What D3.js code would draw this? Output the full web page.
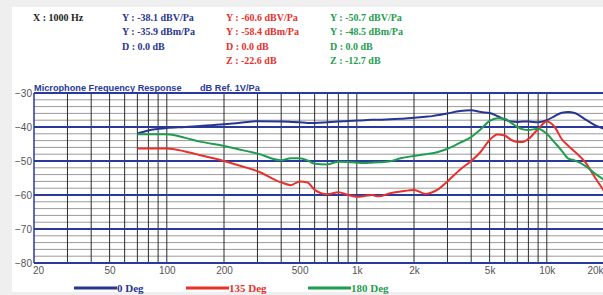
<!DOCTYPE html>
<html>
<head>
<meta charset="utf-8">
<script src="https://cdn.jsdelivr.net/npm/d3@7"></script>
<style>
  body { margin: 0; background: #efefef; }
  svg { display: block; }
</style>
</head>
<body>
<svg id="chart" width="603" height="295"></svg>
<script>
"use strict";

const freqs = [70, 80, 100, 125, 150, 200, 250, 300, 400, 450, 500, 550, 600, 700, 800, 900,
  1000, 1100, 1200, 1300, 1500, 1700, 2000, 2300, 2500, 2700, 3000, 3500, 4000, 4500, 5000,
  5500, 6000, 6500, 7000, 7500, 8000, 9000, 10000, 11000, 12000, 13000, 14000, 16000, 18000, 20000];

const deg0 = [-41.9, -41.0, -40.3, -40.0, -39.7, -39.2, -38.7, -38.3, -38.4, -38.5, -38.6, -38.8, -38.8, -38.6, -38.4, -38.2,
  -38.1, -38.0, -37.9, -37.9, -37.7, -37.6, -37.3, -37.0, -36.8, -36.5, -36.0, -35.3, -35.1, -35.6, -35.9,
  -36.8, -37.8, -38.4, -38.5, -38.4, -38.4, -38.6, -38.0, -36.8, -35.8, -35.6, -35.9, -37.8, -39.5, -40.5];

const deg135 = [-46.3, -46.3, -46.3, -47.2, -48.3, -50.0, -51.6, -53.0, -56.3, -57.1, -56.0, -56.3, -58.5, -59.8, -59.2, -60.0,
  -60.5, -60.3, -60.0, -60.4, -59.5, -59.0, -58.5, -59.7, -59.2, -58.2, -56.0, -52.5, -50.0, -47.2, -43.8,
  -42.2, -42.5, -43.8, -44.4, -44.4, -43.5, -40.6, -38.4, -40.0, -43.6, -45.6, -47.2, -50.5, -55.0, -58.8];

const deg180 = [-42.1, -42.1, -42.1, -43.2, -44.3, -45.6, -46.8, -47.8, -49.8, -49.2, -49.2, -49.8, -50.8, -51.0, -50.2, -50.3,
  -50.5, -50.6, -50.5, -50.4, -50.1, -49.2, -48.5, -48.0, -47.7, -47.3, -46.4, -44.6, -43.0, -40.6, -38.2,
  -37.4, -37.6, -38.8, -40.0, -40.7, -40.9, -40.5, -42.0, -44.6, -47.0, -49.3, -49.8, -51.5, -53.8, -55.5];

const seriesNames = ["0 Deg", "135 Deg", "180 Deg"];
const seriesColors = ["#283593", "#e8302c", "#1f9d4f"];

const xTicks = [20, 50, 100, 200, 500, 1000, 2000, 5000, 10000, 20000];
const xTickLabels = ["20", "50", "100", "200", "500", "1k", "2k", "5k", "10k", "20k"];
const yTicks = [-30, -40, -50, -60, -70, -80];

// cursor readout at 1000 Hz
const readX = "X : 1000 Hz";
const readouts = [
  ["Y : -38.1 dBV/Pa", "Y : -35.9 dBm/Pa", "D : 0.0 dB"],
  ["Y : -60.6 dBV/Pa", "Y : -58.4 dBm/Pa", "D : 0.0 dB", "Z : -22.6 dB"],
  ["Y : -50.7 dBV/Pa", "Y : -48.5 dBm/Pa", "D : 0.0 dB", "Z : -12.7 dB"]
];

const svg = d3.select("#chart");

// white panel
svg.append("rect").attr("x", 12).attr("y", 7).attr("width", 591).attr("height", 285).attr("fill", "#fff");

const pLeft = 34, pRight = 604, pTop = 93, pBottom = 263;

const x = d3.scaleLog().domain([20, 20000]).range([pLeft, pRight]);
const y = d3.scaleLinear().domain([-80, -30]).range([pBottom, pTop]);

const plot = svg.append("g");

// minor horizontal grid every 2 dB
const minorY = d3.range(-80, -29, 2).filter(d => d % 10 !== 0);
plot.selectAll(".hmin").data(minorY).enter().append("line")
  .attr("x1", pLeft).attr("x2", pRight)
  .attr("y1", d => y(d)).attr("y2", d => y(d))
  .attr("stroke", "#9a9a9a").attr("stroke-width", 1);

// vertical grid at 1..9 of each decade
const vLines = [];
[10, 100, 1000, 10000].forEach(dec => {
  for (let k = 1; k <= 9; k++) {
    const f = dec * k;
    if (f > 20 && f < 20000) vLines.push(f);
  }
});
plot.selectAll(".vgrid").data(vLines).enter().append("line")
  .attr("x1", d => x(d)).attr("x2", d => x(d))
  .attr("y1", pTop).attr("y2", pBottom)
  .attr("stroke", "#2b2b2b").attr("stroke-width", 1);

// major horizontal grid
plot.selectAll(".hmaj").data(yTicks).enter().append("line")
  .attr("x1", pLeft).attr("x2", pRight)
  .attr("y1", d => y(d)).attr("y2", d => y(d))
  .attr("stroke", "#2a3a9c").attr("stroke-width", 2);

// left axis line
plot.append("line").attr("x1", pLeft).attr("x2", pLeft).attr("y1", pTop).attr("y2", pBottom)
  .attr("stroke", "#2a3a9c").attr("stroke-width", 1.5);

// y labels
const yAxis = d3.axisLeft(y).tickValues(yTicks).tickSize(0).tickPadding(2).tickFormat(d3.format("d"));
const yg = svg.append("g").attr("transform", `translate(${pLeft},0)`).call(yAxis);
yg.select(".domain").remove();
yg.selectAll("text").attr("fill", "#555").style("font", "10px 'Liberation Sans', Arial, sans-serif");

// x labels
const xAxis = d3.axisBottom(x).tickValues(xTicks).tickSize(0).tickPadding(4)
  .tickFormat((d, i) => xTickLabels[i]);
const xg = svg.append("g").attr("transform", `translate(0,${pBottom})`).call(xAxis);
xg.select(".domain").remove();
xg.selectAll("text").attr("fill", "#555").style("font", "10px 'Liberation Sans', Arial, sans-serif");
xg.selectAll("text").filter(d => d === 20).attr("dx", 4);
xg.selectAll("text").filter(d => d === 20000).attr("dx", -9);

// curves
const allSeries = [deg0, deg135, deg180];
const line = d3.line()
  .x(d => x(d[0]))
  .y(d => y(d[1]))
  .curve(d3.curveMonotoneX);

svg.append("clipPath").attr("id", "clip").append("rect")
  .attr("x", pLeft).attr("y", pTop - 5).attr("width", pRight - pLeft).attr("height", pBottom - pTop + 5);

svg.append("g").attr("clip-path", "url(#clip)")
  .selectAll("path").data(allSeries).enter().append("path")
  .attr("d", vals => line(freqs.map((f, i) => [f, vals[i]])))
  .attr("fill", "none")
  .attr("stroke", (d, i) => seriesColors[i])
  .attr("stroke-width", 2);

// titles
const titleFont = "bold 9.2px 'Liberation Sans', Arial, sans-serif";
svg.append("text").attr("x", pLeft).attr("y", 91).attr("fill", "#2a3a9c")
  .style("font", titleFont).text("Microphone Frequency Response");
svg.append("text").attr("x", 200).attr("y", 91).attr("fill", "#2a3a9c")
  .style("font", titleFont).text("dB Ref. 1V/Pa");

// cursor readout
const serif = "bold 10px 'Liberation Serif', 'Times New Roman', serif";
svg.append("text").attr("x", 33).attr("y", 21).attr("fill", "#222")
  .style("font", serif).text(readX);
const colX = [122, 226, 330];
readouts.forEach((rows, s) => {
  svg.selectAll(".ro" + s).data(rows).enter().append("text")
    .attr("x", colX[s]).attr("y", (d, i) => 21 + i * 14.3)
    .attr("fill", seriesColors[s]).style("font", serif)
    .text(d => d);
});

// legend
const legendFont = "bold 11px 'Liberation Serif', 'Times New Roman', serif";
const legX = [74, 186, 308];
const leg = svg.selectAll(".leg").data(seriesNames).enter().append("g")
  .attr("transform", (d, i) => `translate(${legX[i]},288)`);
leg.append("line").attr("x1", 0).attr("x2", 43).attr("y1", 0).attr("y2", 0)
  .attr("stroke", (d, i) => seriesColors[i]).attr("stroke-width", 3);
leg.append("text").attr("x", 43).attr("y", 4).attr("fill", (d, i) => seriesColors[i])
  .style("font", legendFont).text(d => d);
</script>
</body>
</html>
